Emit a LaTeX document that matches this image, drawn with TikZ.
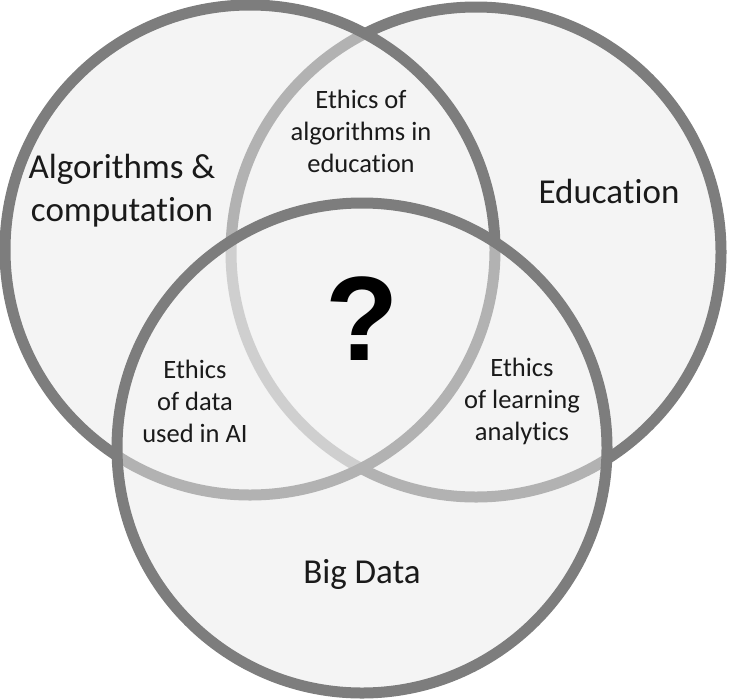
\documentclass[tikz,border=0pt]{standalone}
\usepackage{fontspec}
\setmainfont{Carlito}[Ligatures={NoCommon}]
\newfontfamily\qfont{Liberation Sans}
\definecolor{ringgray}{HTML}{7D7D7D}
\definecolor{fillgray}{HTML}{F4F4F4}
\definecolor{textgray}{HTML}{1A1A1A}
\begin{document}
\begin{tikzpicture}[x=1pt,y=-1pt,
  ring/.style={draw=ringgray,line width=11pt},
  veil/.style={fill=fillgray,fill opacity=0.45},
  bigtxt/.style={font=\fontsize{35}{43}\selectfont,text=textgray,align=center,inner sep=0pt},
  smalltxt/.style={font=\fontsize{26.5}{32}\selectfont,text=textgray,align=center,inner sep=0pt}]
\useasboundingbox (0,0) rectangle (730,699);
\coordinate (cl) at (250,250);
\coordinate (cr) at (476,252);
\coordinate (cb) at (362,448);
\def\R{245}
% base fill
\fill[fillgray] (cl) circle (\R) (cr) circle (\R) (cb) circle (\R);
% right circle
\draw[ring] (cr) circle (\R);
% left circle
\fill[veil] (cl) circle (\R);
\draw[ring] (cl) circle (\R);
% bottom circle
\fill[veil] (cb) circle (\R);
\draw[ring] (cb) circle (\R);
% labels
\node[bigtxt] (alg) at (122,191) {Algorithms \&\\computation};
\node[bigtxt] (edu) at (609,191) {Education};
\node[bigtxt] (big) at (362,574) {Big Data};
\node[smalltxt] (ealg) at (361,131) {Ethics of\\algorithms in\\education};
\node[smalltxt] (edata) at (195,401) {Ethics\\of data\\used in AI};
\node[smalltxt] (ela) at (522,401) {Ethics\\of learning\\analytics};
\node[font=\qfont\bfseries\fontsize{120}{120}\selectfont,inner sep=0pt] (q) at (362,319) {?};
\end{tikzpicture}
\end{document}
